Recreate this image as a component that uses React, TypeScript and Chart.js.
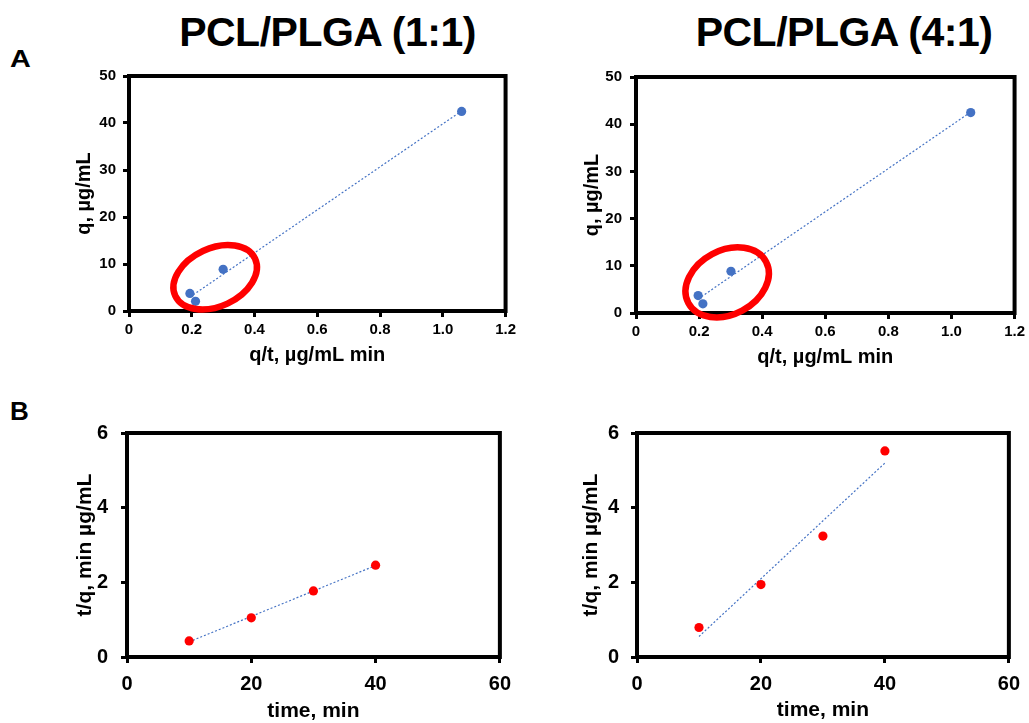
import React, { useEffect, useRef } from "react";
import { Chart, registerables } from "chart.js";

Chart.register(...registerables);

const FONT = "'Liberation Sans', Arial, Helvetica, sans-serif";

// ---- Data ----
// Panel A, PCL/PLGA (1:1): q/t vs q
const a1X = [0.194, 0.212, 0.3, 1.06];
const a1Y = [3.73, 2.05, 8.86, 42.47];
// Panel A, PCL/PLGA (4:1)
const a2X = [0.197, 0.212, 0.301, 1.061];
const a2Y = [3.7, 1.95, 8.85, 42.47];
// Panel B: time vs t/q
const timeMin = [10, 20, 30, 40];
const b1Y = [0.43, 1.05, 1.77, 2.46];
const b2Y = [0.79, 1.94, 3.24, 5.52];

const columnTitles = ["PCL/PLGA (1:1)", "PCL/PLGA (4:1)"];
const panelLetters = ["A", "B"];
const axisTitlesA = { x: "q/t, µg/mL min", y: "q, µg/mL" };
const axisTitlesB = { x: "time, min", y: "t/q, min µg/mL" };

const BLUE = "#4472C4";
const RED = "#FF0000";

function linearFit(xs: number[], ys: number[]) {
  const n = xs.length;
  const mx = xs.reduce((a, b) => a + b, 0) / n;
  const my = ys.reduce((a, b) => a + b, 0) / n;
  let sxx = 0;
  let sxy = 0;
  for (let i = 0; i < n; i++) {
    sxx += (xs[i] - mx) * (xs[i] - mx);
    sxy += (xs[i] - mx) * (ys[i] - my);
  }
  const m = sxy / sxx;
  const b = my - m * mx;
  const x0 = Math.min(...xs);
  const x1 = Math.max(...xs);
  return [
    { x: x0, y: m * x0 + b },
    { x: x1, y: m * x1 + b },
  ];
}

interface Panel {
  box: { left: number; top: number; width: number; height: number };
  padTop: number;
  padRight: number;
  yAxisWidth: number;
  xAxisHeight: number;
  yTitlePad: number;
  xTitlePad: number;
  yTickPad: number;
  xTickPad: number;
  tickSize: number;
  titleSize: number;
  xs: number[];
  ys: number[];
  color: string;
  xRange: [number, number, number];
  yRange: [number, number, number];
  xTitle: string;
  yTitle: string;
  ellipse?: { cx: number; cy: number; rx: number; ry: number; rot: number };
}

const panels: Panel[] = [
  {
    box: { left: 40, top: 60, width: 480, height: 320 },
    padTop: 14, padRight: 13, yAxisWidth: 89, xAxisHeight: 69,
    yTitlePad: 34.5, xTitlePad: 14.5, yTickPad: 7, xTickPad: 4,
    tickSize: 15, titleSize: 20,
    xs: a1X, ys: a1Y, color: BLUE,
    xRange: [0, 1.2, 0.2], yRange: [0, 50, 10],
    xTitle: axisTitlesA.x, yTitle: axisTitlesA.y,
    ellipse: { cx: 0.2746, cy: 7.17, rx: 44, ry: 29, rot: -25 },
  },
  {
    box: { left: 540, top: 60, width: 489, height: 320 },
    padTop: 14, padRight: 13, yAxisWidth: 96, xAxisHeight: 67,
    yTitlePad: 42.2, xTitlePad: 12.8, yTickPad: 8, xTickPad: 4,
    tickSize: 15, titleSize: 20,
    xs: a2X, ys: a2Y, color: BLUE,
    xRange: [0, 1.2, 0.2], yRange: [0, 50, 10],
    xTitle: axisTitlesA.x, yTitle: axisTitlesA.y,
    ellipse: { cx: 0.289, cy: 6.49, rx: 44, ry: 32, rot: -28 },
  },
  {
    box: { left: 40, top: 400, width: 480, height: 323 },
    padTop: 33, padRight: 13, yAxisWidth: 87, xAxisHeight: 66,
    yTitlePad: 34.5, xTitlePad: 0.8, yTickPad: 13, xTickPad: 9,
    tickSize: 20, titleSize: 21,
    xs: timeMin, ys: b1Y, color: RED,
    xRange: [0, 60, 20], yRange: [0, 6, 2],
    xTitle: axisTitlesB.x, yTitle: axisTitlesB.y,
  },
  {
    box: { left: 540, top: 400, width: 489, height: 323 },
    padTop: 33, padRight: 15, yAxisWidth: 97, xAxisHeight: 66,
    yTitlePad: 41.2, xTitlePad: 1.8, yTickPad: 12, xTickPad: 9,
    tickSize: 20, titleSize: 21,
    xs: timeMin, ys: b2Y, color: RED,
    xRange: [0, 60, 20], yRange: [0, 6, 2],
    xTitle: axisTitlesB.x, yTitle: axisTitlesB.y,
  },
];

function PanelChart({ p }: { p: Panel }) {
  const ref = useRef<HTMLCanvasElement | null>(null);
  useEffect(() => {
    if (!ref.current) return;
    const points = p.xs.map((x, i) => ({ x, y: p.ys[i] }));
    const trend = linearFit(p.xs, p.ys);
    const framePlugin = {
      id: "frameAndEllipse",
      beforeDatasetsDraw(chart: any) {
        const { ctx, chartArea } = chart;
        ctx.save();
        ctx.lineWidth = 4;
        ctx.strokeStyle = "#000";
        ctx.strokeRect(
          chartArea.left,
          chartArea.top,
          chartArea.right - chartArea.left,
          chartArea.bottom - chartArea.top
        );
        ctx.restore();
      },
      afterDraw(chart: any) {
        const e = p.ellipse;
        if (!e) return;
        const { ctx } = chart;
        const cx = chart.scales.x.getPixelForValue(e.cx);
        const cy = chart.scales.y.getPixelForValue(e.cy);
        ctx.save();
        ctx.beginPath();
        ctx.ellipse(cx, cy, e.rx, e.ry, (e.rot * Math.PI) / 180, 0, Math.PI * 2);
        ctx.lineWidth = 6.5;
        ctx.strokeStyle = RED;
        ctx.stroke();
        ctx.restore();
      },
    };
    const tickFont = { family: FONT, size: p.tickSize, weight: "bold" as const };
    const titleFont = { family: FONT, size: p.titleSize, weight: "bold" as const, lineHeight: 1 };
    const grid = {
      drawOnChartArea: false,
      drawTicks: true,
      tickLength: 6,
      lineWidth: 3,
      color: "#000",
    };
    const chart = new Chart(ref.current, {
      type: "scatter",
      data: {
        datasets: [
          {
            data: points,
            backgroundColor: p.color,
            borderWidth: 0,
            pointRadius: 4.6,
            pointHoverRadius: 4.6,
          },
          {
            data: trend,
            showLine: true,
            borderColor: BLUE,
            borderWidth: 1.2,
            borderDash: [2, 2],
            pointRadius: 0,
            pointHoverRadius: 0,
          } as any,
        ],
      },
      options: {
        responsive: false,
        animation: false,
        events: [],
        layout: { padding: { top: p.padTop, right: p.padRight, left: 0, bottom: 0 } },
        plugins: {
          legend: { display: false },
          tooltip: { enabled: false },
        },
        scales: {
          x: {
            type: "linear",
            min: p.xRange[0],
            max: p.xRange[1],
            ticks: { stepSize: p.xRange[2], font: tickFont, color: "#000", padding: p.xTickPad },
            grid,
            border: { display: false },
            title: {
              display: true,
              text: p.xTitle,
              font: titleFont,
              color: "#000",
              padding: { top: 0, bottom: p.xTitlePad },
            },
            afterFit: (s: any) => {
              s.height = p.xAxisHeight;
            },
          },
          y: {
            type: "linear",
            min: p.yRange[0],
            max: p.yRange[1],
            ticks: { stepSize: p.yRange[2], font: tickFont, color: "#000", padding: p.yTickPad },
            grid,
            border: { display: false },
            title: {
              display: true,
              text: p.yTitle,
              font: titleFont,
              color: "#000",
              padding: { top: p.yTitlePad, bottom: 0 },
            },
            afterFit: (s: any) => {
              s.width = p.yAxisWidth;
            },
          },
        },
      },
      plugins: [framePlugin],
    });
    return () => chart.destroy();
  }, [p]);
  return (
    <canvas
      ref={ref}
      width={p.box.width}
      height={p.box.height}
      style={{
        position: "absolute",
        left: p.box.left,
        top: p.box.top,
        width: p.box.width,
        height: p.box.height,
        display: "block",
      }}
    />
  );
}

export default function App() {
  const titleStyle: React.CSSProperties = {
    position: "absolute",
    top: 12,
    width: 400,
    textAlign: "center",
    fontFamily: FONT,
    fontWeight: "bold",
    fontSize: 41,
    lineHeight: "41px",
    letterSpacing: "-0.5px",
    color: "#000",
    whiteSpace: "nowrap",
  };
  const letterStyle: React.CSSProperties = {
    position: "absolute",
    fontFamily: FONT,
    fontWeight: "bold",
    color: "#000",
    transformOrigin: "left top",
    whiteSpace: "nowrap",
  };
  return (
    <div
      style={{
        position: "absolute",
        left: 0,
        top: 0,
        width: 1029,
        height: 723,
        overflow: "hidden",
        background: "#fff",
      }}
    >
      <div style={{ ...titleStyle, left: 327.5 - 200 }}>{columnTitles[0]}</div>
      <div style={{ ...titleStyle, left: 844 - 200 }}>{columnTitles[1]}</div>
      <div
        style={{
          ...letterStyle,
          left: 10,
          top: 47,
          fontSize: 24,
          lineHeight: "24px",
          transform: "scaleX(1.2)",
        }}
      >
        {panelLetters[0]}
      </div>
      <div
        style={{
          ...letterStyle,
          left: 10,
          top: 398,
          fontSize: 26,
          lineHeight: "26px",
        }}
      >
        {panelLetters[1]}
      </div>
      {panels.map((p, i) => (
        <PanelChart key={i} p={p} />
      ))}
    </div>
  );
}
